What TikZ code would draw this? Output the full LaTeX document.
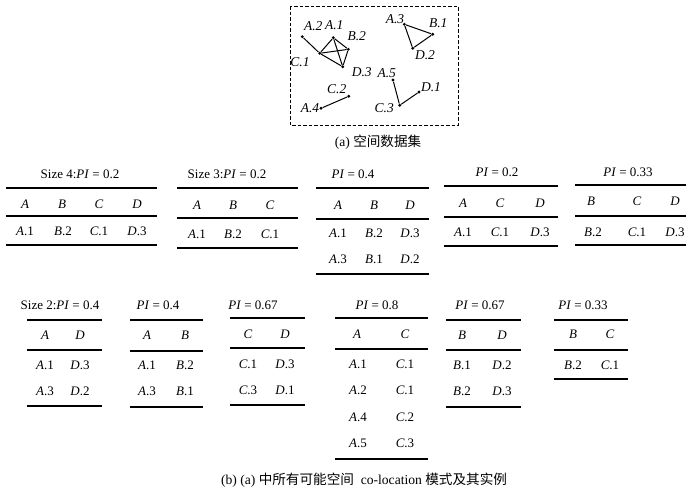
\documentclass[tikz,border=0pt]{standalone}
\usepackage{fontspec}
\setmainfont{Liberation Serif}
\newfontfamily\cjk{Noto Sans CJK SC}
\newcommand\el[2]{\textit{#1}.#2}
\newcommand\tabrules[5]{%
  \draw[thickrule] (#1,#3) -- (#2,#3);
  \draw[thinrule] (#1,#4) -- (#2,#4);
  \draw[thickrule] (#1,#5) -- (#2,#5);}
\begin{document}
\begin{tikzpicture}[x=1pt,y=-1pt,
  txt/.style={font=\fontsize{13}{15}\selectfont, inner sep=0pt, anchor=center},
  captxt/.style={font=\fontsize{13.6}{15}\selectfont, inner sep=0pt, anchor=center},
  glab/.style={font=\fontsize{13.5}{15}\selectfont\itshape, inner sep=0pt},
  thickrule/.style={line width=2.6pt},
  thinrule/.style={line width=1.5pt},
  pnt/.style={circle, fill=black, inner sep=0pt, minimum size=3.2pt},
  edge/.style={line width=1pt}]
\useasboundingbox (0,0) rectangle (700,491);

% ---------- (a) spatial data set ----------
\draw[line width=1pt, dash pattern=on 3.5pt off 2pt] (290,6) rectangle (458,125);
\node[pnt] (A2) at (302.3,36.7) {};
\node[pnt] (A1) at (333.3,37.7) {};
\node[pnt] (B2) at (348.3,49.3) {};
\node[pnt] (C1) at (319.7,53.3) {};
\node[pnt] (D3) at (342.7,66.7) {};
\node[pnt] (A3) at (404.3,24.3) {};
\node[pnt] (B1) at (432.7,34.3) {};
\node[pnt] (D2) at (412.7,48.3) {};
\node[pnt] (A5) at (393,80) {};
\node[pnt] (D1) at (419,92) {};
\node[pnt] (C3) at (399.7,105.3) {};
\node[pnt] (C2) at (348.7,96.3) {};
\node[pnt] (A4) at (321,108.3) {};
\draw[edge] (A2) -- (C1);
\draw[edge] (C1) -- (A1); \draw[edge] (C1) -- (B2); \draw[edge] (C1) -- (D3);
\draw[edge] (A1) -- (B2); \draw[edge] (A1) -- (D3); \draw[edge] (B2) -- (D3);
\draw[edge] (A3) -- (B1); \draw[edge] (B1) -- (D2); \draw[edge] (A3) -- (D2);
\draw[edge] (A5) -- (C3); \draw[edge] (C3) -- (D1);
\draw[edge] (A4) -- (C2);
\node[glab] (lA2) at (313.3,26) {A.2};
\node[glab] (lA1) at (334.3,25) {A.1};
\node[glab] (lB2) at (356.7,36) {B.2};
\node[glab] (lC1) at (300,61.7) {C.1};
\node[glab] (lD3) at (361.7,71.7) {D.3};
\node[glab] (lA3) at (395,19.3) {A.3};
\node[glab] (lB1) at (438.3,22.7) {B.1};
\node[glab] (lD2) at (425,55) {D.2};
\node[glab] (lA5) at (386.7,73.3) {A.5};
\node[glab] (lD1) at (431,87.3) {D.1};
\node[glab] (lC3) at (384.3,107.7) {C.3};
\node[glab] (lC2) at (336.7,89.3) {C.2};
\node[glab] (lA4) at (310,108.3) {A.4};
\node[captxt] (capa) at (378,142) {(a) {\cjk 空间数据集}};

% ---------- row 1 ----------
% table 1
\node[txt] (t1) at (80,174) {Size 4:\textit{PI} = 0.2};
\tabrules{6}{157}{188}{216}{245}
\node[txt] (t1h1) at (25,204) {\textit{A}};
\node[txt] (t1h2) at (62,204) {\textit{B}};
\node[txt] (t1h3) at (99,204) {\textit{C}};
\node[txt] (t1h4) at (137,204) {\textit{D}};
\node[txt] (t1a) at (25,231) {\el{A}{1}};
\node[txt] (t1b) at (63,231) {\el{B}{2}};
\node[txt] (t1c) at (99,231) {\el{C}{1}};
\node[txt] (t1d) at (137,231) {\el{D}{3}};
% table 2
\node[txt] (t2) at (227,174) {Size 3:\textit{PI} = 0.2};
\tabrules{177}{298}{188}{218}{248}
\node[txt] (t2h1) at (197,205) {\textit{A}};
\node[txt] (t2h2) at (233,205) {\textit{B}};
\node[txt] (t2h3) at (270,205) {\textit{C}};
\node[txt] (t2a) at (197,234) {\el{A}{1}};
\node[txt] (t2b) at (233,234) {\el{B}{2}};
\node[txt] (t2c) at (270,234) {\el{C}{1}};
% table 3
\node[txt] (t3) at (353,174) {\textit{PI} = 0.4};
\tabrules{316}{429}{188}{219}{274}
\node[txt] (t3h1) at (338,205) {\textit{A}};
\node[txt] (t3h2) at (374,205) {\textit{B}};
\node[txt] (t3h3) at (410,205) {\textit{D}};
\node[txt] (t3a) at (338,233) {\el{A}{1}};
\node[txt] (t3b) at (374,233) {\el{B}{2}};
\node[txt] (t3c) at (410,233) {\el{D}{3}};
\node[txt] (t3d) at (338,259) {\el{A}{3}};
\node[txt] (t3e) at (374,259) {\el{B}{1}};
\node[txt] (t3f) at (410,259) {\el{D}{2}};
% table 4
\node[txt] (t4) at (497,172) {\textit{PI} = 0.2};
\tabrules{444}{558}{186}{217}{246}
\node[txt] (t4h1) at (463,203) {\textit{A}};
\node[txt] (t4h2) at (500,203) {\textit{C}};
\node[txt] (t4h3) at (540,203) {\textit{D}};
\node[txt] (t4a) at (463,232) {\el{A}{1}};
\node[txt] (t4b) at (500,232) {\el{C}{1}};
\node[txt] (t4c) at (540,232) {\el{D}{3}};
% table 5
\node[txt] (t5) at (628,172) {\textit{PI} = 0.33};
\tabrules{575}{686}{185}{216}{245}
\node[txt] (t5h1) at (591,201) {\textit{B}};
\node[txt] (t5h2) at (637,201) {\textit{C}};
\node[txt] (t5h3) at (675,201) {\textit{D}};
\node[txt] (t5a) at (593,232) {\el{B}{2}};
\node[txt] (t5b) at (637,232) {\el{C}{1}};
\node[txt] (t5c) at (675,232) {\el{D}{3}};

% ---------- row 2 ----------
% table 6
\node[txt] (t6) at (60,305) {Size 2:\textit{PI} = 0.4};
\tabrules{27}{102}{320}{350}{406}
\node[txt] (t6h1) at (45,335) {\textit{A}};
\node[txt] (t6h2) at (80,335) {\textit{D}};
\node[txt] (t6a) at (45,365) {\el{A}{1}};
\node[txt] (t6b) at (80,365) {\el{D}{3}};
\node[txt] (t6c) at (45,391) {\el{A}{3}};
\node[txt] (t6d) at (80,391) {\el{D}{2}};
% table 7
\node[txt] (t7) at (158,305) {\textit{PI} = 0.4};
\tabrules{130}{203}{320}{351}{407}
\node[txt] (t7h1) at (147,335) {\textit{A}};
\node[txt] (t7h2) at (185,335) {\textit{B}};
\node[txt] (t7a) at (147,365) {\el{A}{1}};
\node[txt] (t7b) at (185,365) {\el{B}{2}};
\node[txt] (t7c) at (147,391) {\el{A}{3}};
\node[txt] (t7d) at (185,391) {\el{B}{1}};
% table 8
\node[txt] (t8) at (253,305) {\textit{PI} = 0.67};
\tabrules{230}{305}{318}{348}{405}
\node[txt] (t8h1) at (248,334) {\textit{C}};
\node[txt] (t8h2) at (285,334) {\textit{D}};
\node[txt] (t8a) at (248,364) {\el{C}{1}};
\node[txt] (t8b) at (285,364) {\el{D}{3}};
\node[txt] (t8c) at (248,390) {\el{C}{3}};
\node[txt] (t8d) at (285,390) {\el{D}{1}};
% table 9
\node[txt] (t9) at (377,305) {\textit{PI} = 0.8};
\tabrules{335}{428}{318}{349}{459}
\node[txt] (t9h1) at (357,334) {\textit{A}};
\node[txt] (t9h2) at (405,334) {\textit{C}};
\node[txt] (t9a) at (358,364) {\el{A}{1}};
\node[txt] (t9b) at (405,364) {\el{C}{1}};
\node[txt] (t9c) at (358,390) {\el{A}{2}};
\node[txt] (t9d) at (405,390) {\el{C}{1}};
\node[txt] (t9e) at (358,417) {\el{A}{4}};
\node[txt] (t9f) at (405,417) {\el{C}{2}};
\node[txt] (t9g) at (358,443) {\el{A}{5}};
\node[txt] (t9h) at (405,443) {\el{C}{3}};
% table 10
\node[txt] (t10) at (480,305) {\textit{PI} = 0.67};
\tabrules{446}{521}{320}{350}{407}
\node[txt] (t10h1) at (462,335) {\textit{B}};
\node[txt] (t10h2) at (502,335) {\textit{D}};
\node[txt] (t10a) at (462,365) {\el{B}{1}};
\node[txt] (t10b) at (502,365) {\el{D}{2}};
\node[txt] (t10c) at (462,391) {\el{B}{2}};
\node[txt] (t10d) at (502,391) {\el{D}{3}};
% table 11
\node[txt] (t11) at (583,305) {\textit{PI} = 0.33};
\tabrules{554}{628}{320}{350}{379}
\node[txt] (t11h1) at (573,334) {\textit{B}};
\node[txt] (t11h2) at (610,334) {\textit{C}};
\node[txt] (t11a) at (573,365) {\el{B}{2}};
\node[txt] (t11b) at (610,365) {\el{C}{1}};

\node[captxt] (capb) at (364,480) {(b) (a) {\cjk 中所有可能空间}\ \ co-location {\cjk 模式及其实例}};
\end{tikzpicture}
\end{document}
